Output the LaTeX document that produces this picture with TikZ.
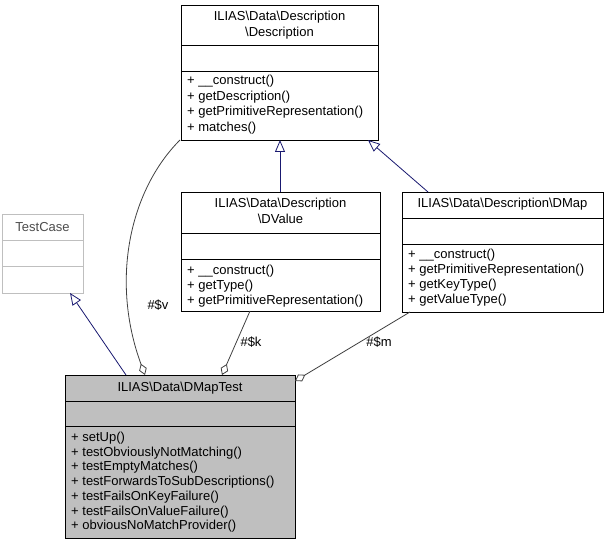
\documentclass[tikz,border=0pt]{standalone}
\usepackage{fontspec}
\setmainfont{Liberation Sans}
\usetikzlibrary{arrows.meta}
\definecolor{edgeblue}{RGB}{25,25,112}
\definecolor{titlegray}{RGB}{191,191,191}
\definecolor{fadegray}{RGB}{191,191,191}
\tikzset{
  box/.style={draw, line width=0.9pt, inner sep=0pt},
  txt/.style={font=\fontsize{13}{14}\selectfont, inner sep=0pt, anchor=west},
  ctr/.style={font=\fontsize{13}{15.5}\selectfont, inner sep=0pt, align=center},
  inherit/.style={draw=edgeblue, line width=0.8pt, -{Triangle[open, length=12pt, width=10pt]}},
  usage/.style={draw=black!75, line width=0.8pt, -{Diamond[open, length=12pt, width=8pt]}}
}
\begin{document}
\begin{tikzpicture}[x=1pt, y=-1pt]
  \useasboundingbox (0,0) rectangle (608,545);

  % Description
  \draw[box] (181,5) rectangle (378,140);
  \draw[line width=0.9pt] (181,45) -- (378,45) (181,71) -- (378,71);
  \node[ctr] (desct) at (279.5,25) {ILIAS\textbackslash Data\textbackslash Description\\\textbackslash Description};
  \foreach \t [count=\i] in {\_\_construct(), getDescription(), getPrimitiveRepresentation(), matches()}
    \node[txt] at (187,65.5+\i*15.7) {+ \t};

  % TestCase
  \draw[box, fadegray] (2,214) rectangle (83,293);
  \draw[fadegray, line width=0.9pt] (2,240) -- (83,240) (2,266) -- (83,266);
  \node[ctr, text=black!70] at (42.5,227) {TestCase};
  \coordinate (tc) at (70,293);

  % DValue
  \draw[box] (181,192) rectangle (380,311);
  \draw[line width=0.9pt] (181,233) -- (380,233) (181,259) -- (380,259);
  \node[ctr] at (280.5,211) {ILIAS\textbackslash Data\textbackslash Description\\\textbackslash DValue};
  \foreach \t [count=\i] in {\_\_construct(), getType(), getPrimitiveRepresentation()}
    \node[txt] at (187,256+\i*15) {+ \t};

  % DMap
  \draw[box] (402,192) rectangle (603,312);
  \draw[line width=0.9pt] (402,218) -- (603,218) (402,244) -- (603,244);
  \node[ctr] at (502.5,204) {ILIAS\textbackslash Data\textbackslash Description\textbackslash DMap};
  \foreach \t [count=\i] in {\_\_construct(), getPrimitiveRepresentation(), getKeyType(), getValueType()}
    \node[txt] at (408,240+\i*15) {+ \t};

  % DMapTest
  \fill[titlegray] (65,375) rectangle (295,538);
  \draw[box] (65,375) rectangle (295,538);
  \draw[line width=0.9pt] (65,401) -- (295,401) (65,426) -- (295,426);
  \node[ctr] at (180,388) {ILIAS\textbackslash Data\textbackslash DMapTest};
  \foreach \t [count=\i] in {setUp(), testObviouslyNotMatching(), testEmptyMatches(), testForwardsToSubDescriptions(), testFailsOnKeyFailure(), testFailsOnValueFailure(), obviousNoMatchProvider()}
    \node[txt] at (71,423.5+\i*14.7) {+ \t};

  % Beziehungen
  \draw[inherit] (280,192) -- (280,140);
  \draw[inherit] (428,192) -- (368,140);
  \draw[inherit] (126,375) -- (tc);
  \draw[usage] (180,140) .. controls (130,190) and (110,280) .. (145,375);
  \draw[usage] (250,311) -- (222,375);
  \draw[usage] (410,312) -- (295,381);
  \node[ctr] at (158,305) {\#\$v};
  \node[ctr] at (251,342) {\#\$k};
  \node[ctr] at (379,342) {\#\$m};
\end{tikzpicture}
\end{document}
